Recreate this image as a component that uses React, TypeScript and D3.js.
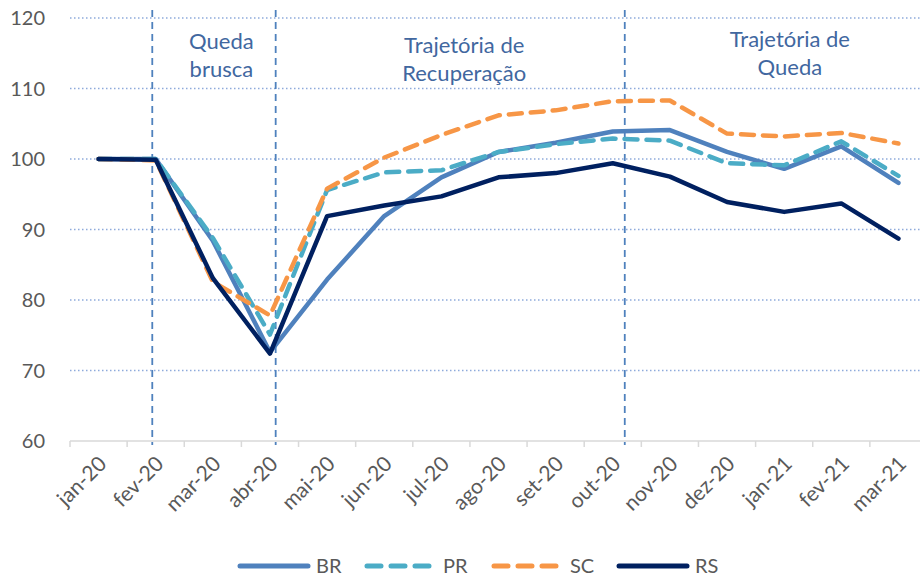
import { useEffect, useRef } from "react";
import * as d3 from "d3";

const months = ["jan-20", "fev-20", "mar-20", "abr-20", "mai-20", "jun-20", "jul-20", "ago-20", "set-20", "out-20", "nov-20", "dez-20", "jan-21", "fev-21", "mar-21"];
const br = [100, 100, 88.4, 72.6, 82.9, 91.9, 97.4, 101, 102.3, 103.9, 104.1, 101, 98.6, 101.8, 96.6];
const pr = [100, 100, 88.8, 75.1, 95.6, 98.1, 98.4, 101, 102.1, 102.9, 102.6, 99.4, 99.1, 102.5, 97.6];
const sc = [100, 99.8, 82.6, 77.8, 95.8, 100.2, 103.4, 106.2, 106.9, 108.2, 108.3, 103.6, 103.2, 103.7, 102.2];
const rs = [100, 99.9, 83.1, 72.4, 91.9, 93.4, 94.7, 97.4, 98, 99.4, 97.5, 93.9, 92.5, 93.7, 88.7];
const yTicks = [60, 70, 80, 90, 100, 110, 120];

// vertical separators (fractional month index) and phase labels
const phaseLines = [0.94, 3.1, 9.21];
const phaseLabels = [
  { at: 2.15, lines: ["Queda", "brusca"], top: 49 },
  { at: 6.4, lines: ["Trajetória de", "Recuperação"], top: 53 },
  { at: 12.1, lines: ["Trajetória de", "Queda"], top: 47 },
];

const series = [
  { name: "BR", values: br, color: "#4F81BD", dash: null, width: 4.5 },
  { name: "PR", values: pr, color: "#4BACC6", dash: "13,9", width: 4.5 },
  { name: "SC", values: sc, color: "#F79646", dash: "13,9", width: 4.5 },
  { name: "RS", values: rs, color: "#002060", dash: null, width: 4.5 },
];

const font = "Lato, 'Open Sans', sans-serif";

export default function App() {
  const svgRef = useRef<SVGSVGElement>(null);

  useEffect(() => {
    const W = 920, H = 577;
    const margin = { left: 70, right: -7, top: 18, bottom: 136 };
    const svg = d3.select(svgRef.current);
    svg.selectAll("*").remove();

    const x = d3.scaleBand().domain(months).range([margin.left, W - margin.right]);
    const bw = x.bandwidth();
    const xi = (i: number) => margin.left + bw * (i + 0.5);
    const y = d3.scaleLinear().domain([60, 120]).range([H - margin.bottom, margin.top]);

    // grid
    svg.append("g")
      .selectAll("line")
      .data(yTicks.filter(t => t > 60))
      .join("line")
      .attr("x1", margin.left).attr("x2", W)
      .attr("y1", d => y(d)).attr("y2", d => y(d))
      .attr("stroke", "#8EAADB")
      .attr("stroke-width", 1.5)
      .attr("stroke-dasharray", "1.5,2.5");

    // y labels
    svg.append("g")
      .selectAll("text")
      .data(yTicks)
      .join("text")
      .attr("x", 45).attr("y", d => y(d))
      .attr("dy", "0.35em")
      .attr("text-anchor", "end")
      .attr("font-family", font)
      .attr("font-size", 20)
      .attr("fill", "#595959")
      .text(d => d);

    // x axis
    const xAxis = svg.append("g").attr("transform", `translate(0,${y(60)})`);
    xAxis.append("line")
      .attr("x1", margin.left).attr("x2", W)
      .attr("stroke", "#D9D9D9").attr("stroke-width", 1.5);
    xAxis.selectAll(".tk")
      .data(d3.range(months.length + 1))
      .join("line")
      .attr("x1", i => margin.left + i * bw).attr("x2", i => margin.left + i * bw)
      .attr("y1", 0).attr("y2", 6)
      .attr("stroke", "#D9D9D9").attr("stroke-width", 1.5);
    xAxis.selectAll("text")
      .data(months)
      .join("text")
      .attr("transform", d => `translate(${(x(d) as number) + bw / 2 + 4},${19}) rotate(-45)`)
      .attr("text-anchor", "end")
      .attr("dy", "0.35em")
      .attr("font-family", font)
      .attr("font-size", 21)
      .attr("fill", "#595959")
      .text(d => d);

    // phase separators
    svg.append("g")
      .selectAll("line")
      .data(phaseLines)
      .join("line")
      .attr("x1", d => xi(d)).attr("x2", d => xi(d))
      .attr("y1", 10).attr("y2", y(60) + 4)
      .attr("stroke", "#4F81BD")
      .attr("stroke-width", 1.8)
      .attr("stroke-dasharray", "7,5");

    const lbl = svg.append("g")
      .selectAll("text")
      .data(phaseLabels)
      .join("text")
      .attr("text-anchor", "middle")
      .attr("font-family", font)
      .attr("font-size", 22)
      .attr("fill", "#41679F");
    lbl.selectAll("tspan")
      .data(d => d.lines.map((t, k) => ({ t, k, d })))
      .join("tspan")
      .attr("x", p => xi(p.d.at))
      .attr("y", p => p.d.top + p.k * 28)
      .text(p => p.t);

    // lines
    const line = d3.line<number>()
      .x((_, i) => xi(i))
      .y(v => y(v));
    svg.append("g")
      .selectAll("path")
      .data(series)
      .join("path")
      .attr("d", s => line(s.values))
      .attr("fill", "none")
      .attr("stroke", s => s.color)
      .attr("stroke-width", s => s.width)
      .attr("stroke-dasharray", s => s.dash)
      .attr("stroke-linecap", "round")
      .attr("stroke-linejoin", "round");

    // legend
    const legendX = [238, 365, 492, 617];
    const leg = svg.append("g")
      .selectAll("g")
      .data(series)
      .join("g")
      .attr("transform", (_, i) => `translate(${legendX[i]},566)`);
    leg.append("line")
      .attr("x1", 2).attr("x2", 70)
      .attr("stroke", s => s.color)
      .attr("stroke-width", 5)
      .attr("stroke-linecap", "round")
      .attr("stroke-dasharray", s => (s.dash ? "14,10" : null));
    leg.append("text")
      .attr("x", 78).attr("dy", "0.35em")
      .attr("font-family", font)
      .attr("font-size", 20)
      .attr("fill", "#595959")
      .text(s => s.name);
  }, []);

  return <svg ref={svgRef} width={920} height={577} style={{ position: "absolute", left: 0, top: 0 }} />;
}
